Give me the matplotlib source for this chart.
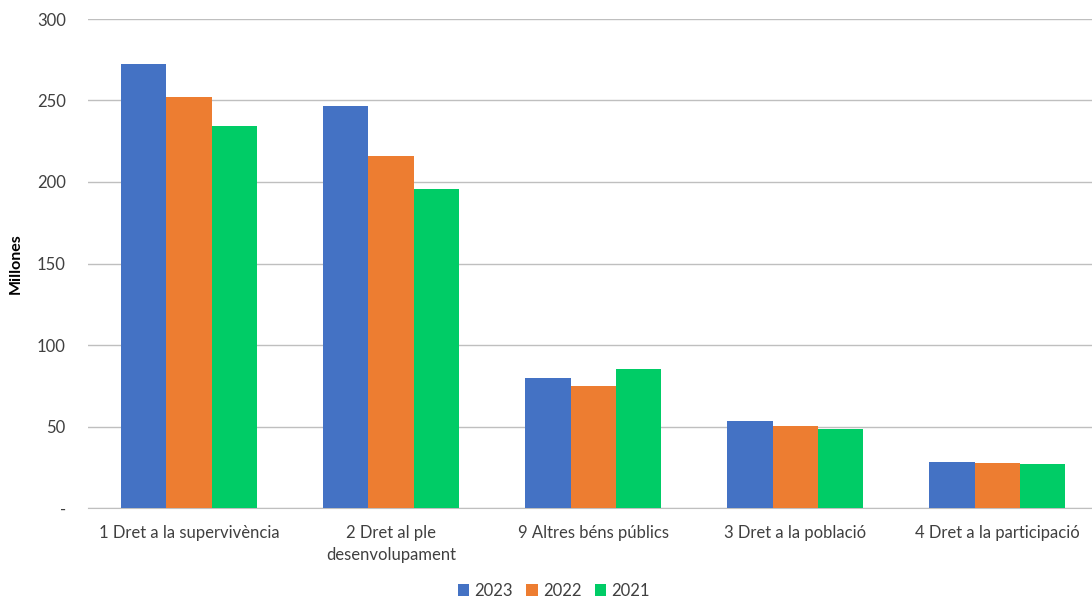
import numpy as np
import matplotlib.pyplot as plt

plt.rcParams['font.family'] = ['Lato', 'DejaVu Sans']

# Data (millones)
categories = ['1 Dret a la supervivència', '2 Dret al ple\ndesenvolupament',
              '9 Altres béns públics', '3 Dret a la població', '4 Dret a la participació']
years = ['2023', '2022', '2021']
v2023 = [272.5, 246.5, 79.8, 53.5, 28.2]
v2022 = [251.9, 215.7, 75.1, 50.6, 27.6]
v2021 = [234.6, 195.7, 85.2, 48.6, 27.0]
colors = ['#4472C4', '#ED7D31', '#00CC66']

fig = plt.figure(figsize=(10.92, 5.98), dpi=100)
ax = fig.add_axes([88/1092, 90/598, 1004/1092, 489/598])

x = np.arange(len(categories))
w = 0.223
for i, (vals, lab) in enumerate(zip([v2023, v2022, v2021], years)):
    ax.bar(x + (i - 1) * w, vals, width=w, color=colors[i], label=lab, zorder=3)

ax.set_ylim(0, 300)
ax.set_xlim(-0.5, 4.47)
ax.set_yticks(range(0, 301, 50))
ax.set_yticklabels(['-', '50', '100', '150', '200', '250', '300'])
ax.set_xticks(x)
ax.set_xticklabels(categories, va='top', linespacing=1.45)
ax.tick_params(axis='both', length=0, labelsize=12, colors='#404040')
ax.tick_params(axis='y', pad=16)
ax.tick_params(axis='x', pad=12)
ax.grid(axis='y', color='#bfbfbf', linewidth=1, zorder=0)
for s in ['top', 'right', 'left']:
    ax.spines[s].set_visible(False)
ax.spines['bottom'].set_color('#bfbfbf')
ax.set_ylabel('Millones', fontweight='bold', fontsize=11.5, labelpad=10)

leg = fig.legend(loc='center', ncol=3, frameon=False, fontsize=12,
                 handlelength=0.7, handleheight=0.7,
                 handletextpad=0.3, columnspacing=0.8)
leg.set_bbox_to_anchor((0.507, 1 - 591/598), transform=fig.transFigure)
for t in leg.get_texts():
    t.set_color('#404040')

fig.savefig('out.png', dpi=100)
